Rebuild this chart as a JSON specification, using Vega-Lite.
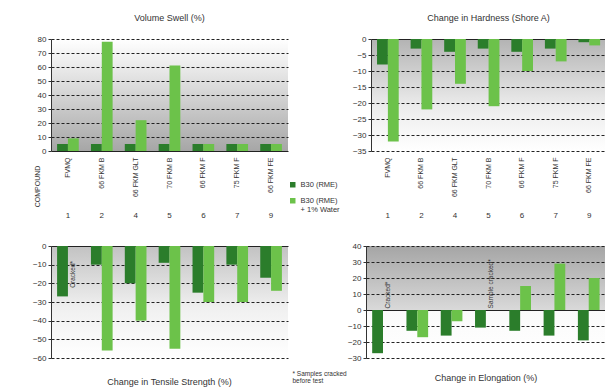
{
  "$schema": "https://vega.github.io/schema/vega-lite/v6.json",
  "padding": {"left": 32, "top": 14, "right": 0, "bottom": 0},
  "background": "white",
  "config": {
    "font": "Liberation Sans",
    "view": {"stroke": null},
    "axis": {"labelFontSize": 8, "labelColor": "#333", "titleColor": "#333", "titleFontWeight": "normal", "domainColor": "#333", "tickColor": "#333"},
    "axisY": {"grid": true, "gridColor": "#222", "gridWidth": 1.2, "gridDash": {"condition": {"test": "datum.value === 0", "value": []}, "value": [3, 2]}, "tickSize": 3, "labelPadding": 2, "labelOverlap": false},
    "title": {"fontSize": 9, "fontWeight": "normal", "color": "#333"},
    "legend": {"labelFontSize": 7.5, "labelColor": "#333", "symbolType": "square", "symbolSize": 30, "symbolStrokeWidth": 0, "rowPadding": 7, "labelLimit": 120}
  },
  "datasets": {
    "swell": [
      {"num": "1", "series": "B30 (RME)", "value": 5}, {"num": "1", "series": "B30 (RME) + 1% Water", "value": 9},
      {"num": "2", "series": "B30 (RME)", "value": 5}, {"num": "2", "series": "B30 (RME) + 1% Water", "value": 78},
      {"num": "4", "series": "B30 (RME)", "value": 5}, {"num": "4", "series": "B30 (RME) + 1% Water", "value": 22},
      {"num": "5", "series": "B30 (RME)", "value": 5}, {"num": "5", "series": "B30 (RME) + 1% Water", "value": 61},
      {"num": "6", "series": "B30 (RME)", "value": 5}, {"num": "6", "series": "B30 (RME) + 1% Water", "value": 5},
      {"num": "7", "series": "B30 (RME)", "value": 5}, {"num": "7", "series": "B30 (RME) + 1% Water", "value": 5},
      {"num": "9", "series": "B30 (RME)", "value": 5}, {"num": "9", "series": "B30 (RME) + 1% Water", "value": 5}
    ],
    "hardness": [
      {"num": "1", "series": "B30 (RME)", "value": -8}, {"num": "1", "series": "B30 (RME) + 1% Water", "value": -32},
      {"num": "2", "series": "B30 (RME)", "value": -3}, {"num": "2", "series": "B30 (RME) + 1% Water", "value": -22},
      {"num": "4", "series": "B30 (RME)", "value": -4}, {"num": "4", "series": "B30 (RME) + 1% Water", "value": -14},
      {"num": "5", "series": "B30 (RME)", "value": -3}, {"num": "5", "series": "B30 (RME) + 1% Water", "value": -21},
      {"num": "6", "series": "B30 (RME)", "value": -4}, {"num": "6", "series": "B30 (RME) + 1% Water", "value": -10},
      {"num": "7", "series": "B30 (RME)", "value": -3}, {"num": "7", "series": "B30 (RME) + 1% Water", "value": -7},
      {"num": "9", "series": "B30 (RME)", "value": -1}, {"num": "9", "series": "B30 (RME) + 1% Water", "value": -2}
    ],
    "tensile": [
      {"num": "1", "series": "B30 (RME)", "value": -27},
      {"num": "2", "series": "B30 (RME)", "value": -10}, {"num": "2", "series": "B30 (RME) + 1% Water", "value": -56},
      {"num": "4", "series": "B30 (RME)", "value": -20}, {"num": "4", "series": "B30 (RME) + 1% Water", "value": -40},
      {"num": "5", "series": "B30 (RME)", "value": -9}, {"num": "5", "series": "B30 (RME) + 1% Water", "value": -55},
      {"num": "6", "series": "B30 (RME)", "value": -25}, {"num": "6", "series": "B30 (RME) + 1% Water", "value": -30},
      {"num": "7", "series": "B30 (RME)", "value": -10}, {"num": "7", "series": "B30 (RME) + 1% Water", "value": -30},
      {"num": "9", "series": "B30 (RME)", "value": -17}, {"num": "9", "series": "B30 (RME) + 1% Water", "value": -24}
    ],
    "elongation": [
      {"num": "1", "series": "B30 (RME)", "value": -27},
      {"num": "2", "series": "B30 (RME)", "value": -13}, {"num": "2", "series": "B30 (RME) + 1% Water", "value": -17},
      {"num": "4", "series": "B30 (RME)", "value": -16}, {"num": "4", "series": "B30 (RME) + 1% Water", "value": -7},
      {"num": "5", "series": "B30 (RME)", "value": -11},
      {"num": "6", "series": "B30 (RME)", "value": -13}, {"num": "6", "series": "B30 (RME) + 1% Water", "value": 15},
      {"num": "7", "series": "B30 (RME)", "value": -16}, {"num": "7", "series": "B30 (RME) + 1% Water", "value": 29},
      {"num": "9", "series": "B30 (RME)", "value": -19}, {"num": "9", "series": "B30 (RME) + 1% Water", "value": 20}
    ]
  },
  "bounds": "flush",
  "spacing": 207,
  "vconcat": [
    {
      "bounds": "flush",
      "spacing": 83,
      "hconcat": [
        {
          "width": 237, "height": 112,
          "title": {"text": "Volume Swell (%)", "offset": 12},
          "view": {"fill": {"gradient": "linear", "x1": 0, "y1": 0, "x2": 0, "y2": 1, "stops": [{"offset": 0, "color": "#ffffff"}, {"offset": 0.3, "color": "#e6e6e6"}, {"offset": 1, "color": "#a6a6a6"}]}},
          "data": {"name": "swell"},
          "resolve": {"axis": {"x": "independent"}},
          "encoding": {
            "y": {"field": "value", "type": "quantitative", "scale": {"domain": [0, 80], "nice": false},
              "axis": {"values": [0, 10, 20, 30, 40, 50, 60, 70, 80], "title": null}},
            "xOffset": {"field": "series", "sort": ["B30 (RME)", "B30 (RME) + 1% Water"]}
          },
          "layer": [
            {
              "mark": {"type": "bar"},
              "encoding": {
                "x": {"field": "num", "type": "nominal", "sort": null, "scale": {"paddingInner": 0.36, "paddingOuter": 0.18},
                  "axis": {"orient": "bottom", "labelAngle": -90, "labelFontSize": 7, "labelPadding": 6, "domain": false, "ticks": false, "grid": false,
                    "labelExpr": "{'1':'FVMQ','2':'66 FKM B','4':'66 FKM GLT','5':'70 FKM B','6':'66 FKM F','7':'75 FKM F','9':'66 FKM FE'}[datum.label]",
                    "title": "COMPOUND", "titleAngle": -90, "titleFontSize": 7, "titleX": -14, "titleY": 35, "titleAlign": "center", "titleBaseline": "middle"}},
                "color": {"field": "series", "type": "nominal", "scale": {"domain": ["B30 (RME)", "B30 (RME) + 1% Water"], "range": ["#2b7d2b", "#6cc24a"]},
                  "legend": {"title": null, "orient": "none", "legendX": 238, "legendY": 142,
                    "labelExpr": "datum.label == 'B30 (RME) + 1% Water' ? ['B30 (RME)', '+ 1% Water'] : datum.label"}}
              }
            },
            {
              "mark": {"type": "tick", "opacity": 0},
              "encoding": {
                "x": {"field": "num", "type": "nominal", "sort": null, "axis": {"orient": "bottom", "offset": 58, "domain": false, "ticks": false, "grid": false, "labelAngle": 0, "title": null}}
              }
            }
          ]
        },
        {
          "width": 235, "height": 112,
          "title": {"text": "Change in Hardness (Shore A)", "offset": 12},
          "view": {"fill": {"gradient": "linear", "x1": 0, "y1": 0, "x2": 0, "y2": 1, "stops": [{"offset": 0, "color": "#b3b3b3"}, {"offset": 0.6, "color": "#ececec"}, {"offset": 1, "color": "#ffffff"}]}},
          "data": {"name": "hardness"},
          "resolve": {"axis": {"x": "independent"}},
          "encoding": {
            "y": {"field": "value", "type": "quantitative", "scale": {"domain": [-35, 0], "nice": false},
              "axis": {"values": [0, -5, -10, -15, -20, -25, -30, -35], "title": null}},
            "xOffset": {"field": "series", "sort": ["B30 (RME)", "B30 (RME) + 1% Water"]}
          },
          "layer": [
            {
              "mark": {"type": "bar"},
              "encoding": {
                "x": {"field": "num", "type": "nominal", "sort": null, "scale": {"paddingInner": 0.36, "paddingOuter": 0.18},
                  "axis": {"orient": "bottom", "labelAngle": -90, "labelFontSize": 7, "labelPadding": 6, "domain": false, "ticks": false, "grid": false, "title": null,
                    "labelExpr": "{'1':'FVMQ','2':'66 FKM B','4':'66 FKM GLT','5':'70 FKM B','6':'66 FKM F','7':'75 FKM F','9':'66 FKM FE'}[datum.label]"}},
                "color": {"field": "series", "type": "nominal", "scale": {"domain": ["B30 (RME)", "B30 (RME) + 1% Water"], "range": ["#2b7d2b", "#6cc24a"]},
                  "legend": {"title": null, "orient": "none", "legendX": 238, "legendY": 142,
                    "labelExpr": "datum.label == 'B30 (RME) + 1% Water' ? ['B30 (RME)', '+ 1% Water'] : datum.label"}}
              }
            },
            {
              "mark": {"type": "tick", "opacity": 0},
              "encoding": {
                "x": {"field": "num", "type": "nominal", "sort": null, "axis": {"orient": "bottom", "offset": 58, "domain": false, "ticks": false, "grid": false, "labelAngle": 0, "title": null}}
              }
            }
          ]
        }
      ]
    },
    {
      "bounds": "flush",
      "spacing": 78,
      "hconcat": [
        {
          "width": 237, "height": 112,
          "title": {"text": "Change in Tensile Strength (%)", "orient": "bottom", "offset": 16},
          "view": {"fill": {"gradient": "linear", "x1": 0, "y1": 0, "x2": 0, "y2": 1, "stops": [{"offset": 0, "color": "#c2c2c2"}, {"offset": 0.55, "color": "#f0f0f0"}, {"offset": 1, "color": "#ffffff"}]}},
          "encoding": {
            "y": {"field": "value", "type": "quantitative", "scale": {"domain": [-60, 0], "nice": false},
              "axis": {"values": [0, -10, -20, -30, -40, -50, -60], "title": null}},
            "x": {"field": "num", "type": "nominal", "sort": ["1", "2", "4", "5", "6", "7", "9"], "scale": {"paddingInner": 0.36, "paddingOuter": 0.18}, "axis": null},
            "xOffset": {"field": "series", "sort": ["B30 (RME)", "B30 (RME) + 1% Water"], "scale": {"domain": ["B30 (RME)", "B30 (RME) + 1% Water"]}}
          },
          "layer": [
            {
              "data": {"name": "tensile"},
              "mark": {"type": "bar"},
              "encoding": {
                "color": {"field": "series", "type": "nominal", "scale": {"domain": ["B30 (RME)", "B30 (RME) + 1% Water"], "range": ["#2b7d2b", "#6cc24a"]},
                  "legend": {"title": null, "orient": "none", "legendX": 238, "legendY": 142,
                    "labelExpr": "datum.label == 'B30 (RME) + 1% Water' ? ['B30 (RME)', '+ 1% Water'] : datum.label"}}
              }
            },
            {
              "data": {"values": [{"num": "1", "series": "B30 (RME) + 1% Water", "value": -8, "note": "Cracked*"}]},
              "mark": {"type": "text", "angle": 270, "align": "right", "baseline": "middle", "fontSize": 6.5, "color": "#333"},
              "encoding": {"text": {"field": "note"}}
            }
          ]
        },
        {
          "width": 240, "height": 112,
          "title": {"text": "Change in Elongation (%)", "orient": "bottom", "offset": -10},
          "view": {"fill": {"gradient": "linear", "x1": 0, "y1": 0, "x2": 0, "y2": 1, "stops": [{"offset": 0, "color": "#a5a5a5"}, {"offset": 0.57, "color": "#d9d9d9"}, {"offset": 0.58, "color": "#fafafa"}, {"offset": 1, "color": "#ffffff"}]}},
          "encoding": {
            "y": {"field": "value", "type": "quantitative", "scale": {"domain": [-30, 40], "nice": false},
              "axis": {"values": [-30, -20, -10, 0, 10, 20, 30, 40],
                "title": ["* Samples cracked", "before test"], "titleAngle": 0, "titleFontSize": 6.5, "titleAlign": "left", "titleBaseline": "top", "titleX": -74, "titleY": 124, "titleLineHeight": 7}},
            "x": {"field": "num", "type": "nominal", "sort": ["1", "2", "4", "5", "6", "7", "9"], "scale": {"paddingInner": 0.36, "paddingOuter": 0.18}, "axis": null},
            "xOffset": {"field": "series", "sort": ["B30 (RME)", "B30 (RME) + 1% Water"], "scale": {"domain": ["B30 (RME)", "B30 (RME) + 1% Water"]}}
          },
          "layer": [
            {
              "data": {"name": "elongation"},
              "mark": {"type": "bar"},
              "encoding": {
                "color": {"field": "series", "type": "nominal", "scale": {"domain": ["B30 (RME)", "B30 (RME) + 1% Water"], "range": ["#2b7d2b", "#6cc24a"]},
                  "legend": {"title": null, "orient": "none", "legendX": 238, "legendY": 142,
                    "labelExpr": "datum.label == 'B30 (RME) + 1% Water' ? ['B30 (RME)', '+ 1% Water'] : datum.label"}}
              }
            },
            {
              "data": {"values": [
                {"num": "1", "series": "B30 (RME) + 1% Water", "value": 1, "note": "Cracked*"},
                {"num": "5", "series": "B30 (RME) + 1% Water", "value": 1, "note": "Sample cracked*"}
              ]},
              "mark": {"type": "text", "angle": 270, "align": "left", "baseline": "middle", "fontSize": 6.5, "color": "#333"},
              "encoding": {"text": {"field": "note"}}
            }
          ]
        }
      ]
    }
  ]
}
